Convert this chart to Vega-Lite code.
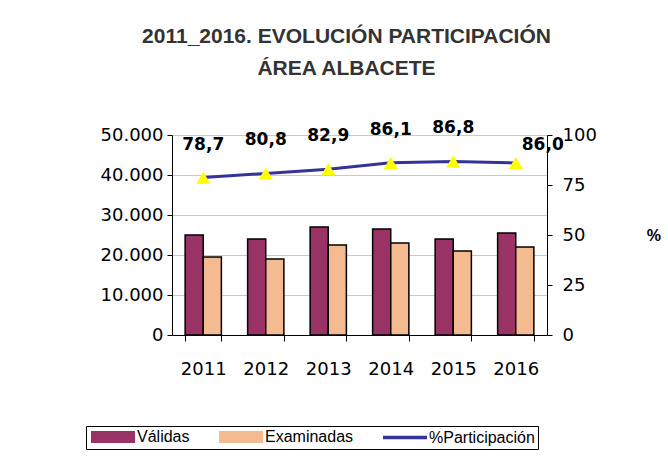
{
  "$schema": "https://vega.github.io/schema/vega-lite/v6.json",
  "width": 375,
  "height": 200,
  "autosize": "none",
  "padding": {"left": 172, "top": 135, "right": 121, "bottom": 124},
  "background": "white",
  "config": {
    "locale": {"number": {"decimal": ",", "thousands": ".", "grouping": [3], "currency": ["", " €"]}},
    "view": {"stroke": null},
    "legend": {
      "title": null, "orient": "none", "legendX": -86, "legendY": 291,
      "direction": "horizontal", "strokeColor": "black", "padding": 3,
      "labelFont": "Liberation Sans", "labelFontSize": 16, "labelColor": "black",
      "symbolSize": 100, "columnPadding": 26, "labelOffset": 32,
      "symbolStrokeColor": "black", "symbolStrokeWidth": 2, "symbolOpacity": 1
    }
  },
  "datasets": {
    "bars": [
      {"year": "2011", "serie": "Válidas", "valor": 25000},
      {"year": "2011", "serie": "Examinadas", "valor": 19500},
      {"year": "2012", "serie": "Válidas", "valor": 24000},
      {"year": "2012", "serie": "Examinadas", "valor": 19000},
      {"year": "2013", "serie": "Válidas", "valor": 27000},
      {"year": "2013", "serie": "Examinadas", "valor": 22500},
      {"year": "2014", "serie": "Válidas", "valor": 26500},
      {"year": "2014", "serie": "Examinadas", "valor": 23000},
      {"year": "2015", "serie": "Válidas", "valor": 24000},
      {"year": "2015", "serie": "Examinadas", "valor": 21000},
      {"year": "2016", "serie": "Válidas", "valor": 25500},
      {"year": "2016", "serie": "Examinadas", "valor": 22000}
    ],
    "pct": [
      {"year": "2011", "pct": 78.7},
      {"year": "2012", "pct": 80.8},
      {"year": "2013", "pct": 82.9},
      {"year": "2014", "pct": 86.1},
      {"year": "2015", "pct": 86.8},
      {"year": "2016", "pct": 86.0}
    ]
  },
  "title": {
    "text": ["2011_2016. EVOLUCIÓN PARTICIPACIÓN", "ÁREA ALBACETE"],
    "font": "Liberation Sans",
    "fontSize": 21,
    "fontWeight": "bold",
    "color": "#333333",
    "lineHeight": 32,
    "anchor": "middle",
    "frame": "group",
    "dx": -13,
    "offset": 40
  },
  "layer": [
    {
      "data": {"name": "bars"},
      "mark": {"type": "bar", "stroke": "black", "strokeWidth": 1.5},
      "encoding": {
        "x": {
          "field": "year", "type": "nominal",
          "scale": {"paddingInner": 0.42, "paddingOuter": 0.21},
          "axis": {
            "title": null, "labelAngle": 0, "tickBand": "extent",
            "domainColor": "black", "tickColor": "black", "tickSize": 6,
            "labelFont": "DejaVu Sans", "labelFontSize": 18, "labelColor": "black",
            "labelPadding": 19
          }
        },
        "xOffset": {"field": "serie", "sort": ["Válidas", "Examinadas"], "scale": {"paddingInner": 0, "paddingOuter": 0}},
        "y": {
          "field": "valor", "type": "quantitative",
          "scale": {"domain": [0, 50000]},
          "axis": {
            "title": null, "values": [0, 10000, 20000, 30000, 40000, 50000], "format": ",d",
            "grid": true, "gridColor": "#c8c8c8", "domainColor": "black", "tickColor": "black",
            "tickSize": 5, "labelFont": "DejaVu Sans", "labelFontSize": 18, "labelColor": "black",
            "labelPadding": 4
          }
        },
        "color": {
          "field": "serie", "type": "nominal",
          "scale": {"domain": ["Válidas", "Examinadas", "%Participación"], "range": ["#993366", "#F5BB90", "#333399"]},
          "legend": {
            "encode": {
              "symbols": {
                "update": {
                  "shape": {"signal": "datum.value === '%Participación' ? 'M-1,-0.15L7.4,-0.15L7.4,0.15L-1,0.15Z' : 'M-1,-1L7.4,-1L7.4,1L-1,1Z'"},
                  "stroke": {"signal": "datum.value === '%Participación' ? '#333399' : 'black'"},
                  "strokeWidth": {"value": 2},
                  "strokeOpacity": {"value": 1}
                }
              }
            }
          }
        }
      }
    },
    {
      "data": {"name": "pct"},
      "encoding": {
        "x": {"field": "year", "type": "nominal"},
        "y": {
          "field": "pct", "type": "quantitative",
          "scale": {"domain": [0, 100]},
          "axis": {
            "orient": "right", "values": [0, 25, 50, 75, 100], "grid": false,
            "domainColor": "black", "tickColor": "black", "tickSize": 5,
            "labelFont": "DejaVu Sans", "labelFontSize": 18, "labelColor": "black", "labelPadding": 10,
            "title": "%", "titleAngle": 0, "titleFont": "Liberation Sans", "titleFontSize": 16,
            "titleFontWeight": "bold", "titleColor": "black", "titlePadding": 57, "titleBaseline": "middle"
          }
        }
      },
      "layer": [
        {
          "mark": {"type": "line", "color": "#333399", "strokeWidth": 3},
          "encoding": {
            "color": {
              "datum": "%Participación",
              "legend": {
                "encode": {
                  "symbols": {
                    "update": {
                      "shape": {"signal": "datum.value === '%Participación' ? 'M-1,-0.15L7.4,-0.15L7.4,0.15L-1,0.15Z' : 'M-1,-1L7.4,-1L7.4,1L-1,1Z'"},
                      "stroke": {"signal": "datum.value === '%Participación' ? '#333399' : 'black'"},
                      "strokeWidth": {"value": 2},
                      "strokeOpacity": {"value": 1}
                    }
                  }
                }
              }
            }
          }
        },
        {
          "mark": {"type": "point", "shape": "triangle-up", "filled": true, "fill": "#FFFF00", "size": 200, "opacity": 1, "strokeWidth": 0}
        },
        {
          "transform": [{"filter": "datum.year != '2016'"}],
          "mark": {"type": "text", "font": "DejaVu Sans", "fontSize": 17, "fontWeight": "bold", "color": "black", "dy": -33, "baseline": "middle"},
          "encoding": {"text": {"field": "pct", "type": "quantitative", "format": ".1f"}}
        },
        {
          "transform": [{"filter": "datum.year == '2016'"}],
          "mark": {"type": "text", "font": "DejaVu Sans", "fontSize": 17, "fontWeight": "bold", "color": "black", "dy": -18, "dx": 27, "baseline": "middle"},
          "encoding": {"text": {"field": "pct", "type": "quantitative", "format": ".1f"}}
        }
      ]
    }
  ],
  "resolve": {"scale": {"y": "independent"}}
}
